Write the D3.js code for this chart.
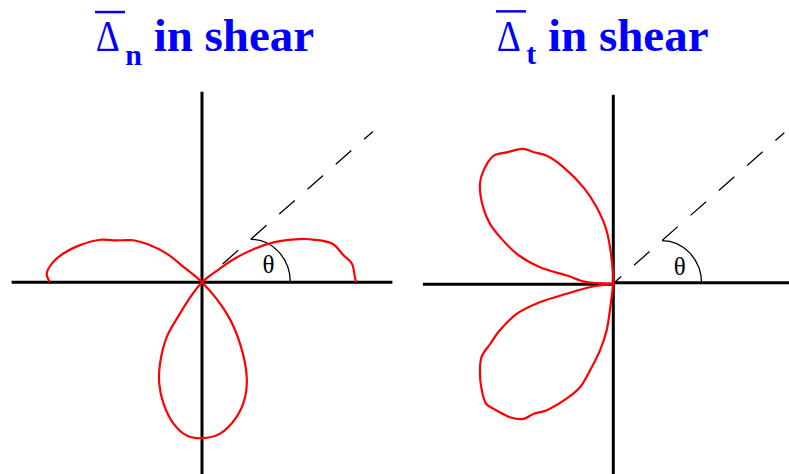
<!DOCTYPE html>
<html>
<head>
<meta charset="utf-8">
<script src="https://cdn.jsdelivr.net/npm/d3@7"></script>
<style>
  html, body { margin: 0; padding: 0; background: #fff; }
  svg { display: block; }
  text { white-space: pre; }
</style>
</head>
<body>
<svg id="chart" width="789" height="474"></svg>
<script>
// Polar opening-displacement profiles around a crack tip under shear loading.
// Angles in degrees (0 = ahead of the tip, 180 = crack flank); values are
// signed, normalised displacements (negative values plot on the opposite ray).

const thetaN = [0, 1.9, 7.1, 10.8, 16.4, 21, 22.7, 24.8, 28.9, 32.4, 35.7, 37.5, 38.5,
  52, 54.9, 57.2, 62.7, 67.1, 72.3, 78.5, 84.3, 90, 96.8, 104.4, 110.6, 115.3, 121.8,
  128.3, 139.8, 140.4, 141, 145, 148.6, 151.8, 154.7, 157.3, 163.1, 168.3, 172.2, 176.8, 180];
const valuesN = [0.963, 0.956, 0.944, 0.900, 0.850, 0.744, 0.700, 0.638, 0.519, 0.394, 0.256, 0.125, 0,
  -0.113, -0.238, -0.406, -0.572, -0.687, -0.794, -0.900, -0.963, -0.975, -0.953, -0.869, -0.766, -0.654, -0.450,
  -0.250, 0, 0.150, 0.281, 0.413, 0.503, 0.555, 0.613, 0.688, 0.797, 0.885, 0.938, 0.972, 0.950];

const thetaT = [0, 9, 12.4, 14.3, 17.4, 22.5, 26.1, 29.2, 34.1, 38.2, 43.5, 47.4, 52.3, 56.4,
  58.5, 62.3, 68, 72.2, 75, 78.8, 81.9, 82.9, 90, 92.5, 97.2, 102.3, 107.3, 113.3, 117.5,
  121.4, 123.8, 129.1, 133.2, 139, 143.2, 149.6, 154.2, 157.8, 162.9, 167.5, 170.3, 177.2, 180];
const valuesT = [0, -0.150, -0.300, -0.475, -0.631, -0.769, -0.856, -0.944, -1.006, -1.050, -1.094, -1.078, -1.056, -1.016,
  -0.956, -0.894, -0.775, -0.681, -0.563, -0.425, -0.297, -0.086, 0, 0.100, 0.331, 0.488, 0.631, 0.794, 0.900,
  0.963, 1.013, 1.056, 1.094, 1.075, 1.041, 0.944, 0.856, 0.763, 0.631, 0.469, 0.294, 0.169, 0];

const titles = [
  { symbol: "\u0394", sub: "n", rest: " in shear" },
  { symbol: "\u0394", sub: "t", rest: " in shear" }
];
const angleLabel = "\u03b8";
const markedAngle = 41.4; // direction of the dashed reference ray, degrees

const svg = d3.select("#chart");

const r = d3.scaleLinear().domain([0, 1]).range([0, 160]);
const ang = d3.scaleLinear().domain([0, 180]).range([Math.PI / 2, -Math.PI / 2]);

const radial = d3.lineRadial()
  .angle(d => ang(d[0]))
  .radius(d => r(d[1]))
  .curve(d3.curveCatmullRom.alpha(0.5));

const panels = [
  { ox: 202, oy: 282.2, theta: thetaN, values: valuesN, title: titles[0], tx: 95.7, ty: 51.3,
    axis: { left: -1.19, right: 1.19, top: 1.19, bottom: 1.25, dyL: 0, dyR: 0 } },
  { ox: 613.3, oy: 283.5, theta: thetaT, values: valuesT, title: titles[1], tx: 496.7, ty: 50.6,
    axis: { left: -1.19, right: 1.2, top: 1.18, bottom: 1.25, dyL: 0.8, dyR: -0.8 } }
];

panels.forEach(p => {
  const g = svg.append("g").attr("transform", `translate(${p.ox},${p.oy})`);

  // cross-hair axes through the crack tip
  const ax = g.append("g").attr("stroke", "#000").attr("stroke-width", 3);
  ax.append("line").attr("x1", r(p.axis.left)).attr("x2", 0)
    .attr("y1", p.axis.dyL).attr("y2", p.axis.dyL);
  ax.append("line").attr("x1", 0).attr("x2", r(p.axis.right))
    .attr("y1", p.axis.dyR).attr("y2", p.axis.dyR);
  ax.append("line").attr("x1", 0).attr("x2", 0)
    .attr("y1", -r(p.axis.top)).attr("y2", r(p.axis.bottom));

  // dashed ray at angle theta
  const a = markedAngle * Math.PI / 180;
  const rayLen = r(1.425);
  g.append("line")
    .attr("x1", 0).attr("y1", 0)
    .attr("x2", rayLen * Math.cos(a)).attr("y2", -rayLen * Math.sin(a))
    .attr("stroke", "#000").attr("stroke-width", 1.3)
    .attr("stroke-dasharray", "20.7 17").attr("stroke-dashoffset", 10.1);

  // quarter arc marking theta, from the ray down to the axis
  const cx = 48.7, rx = 39.6, ry = cx * Math.tan(a);
  g.append("path")
    .attr("d", `M${cx},${-ry} A${rx},${ry} 0 0 1 ${cx + rx},0`)
    .attr("fill", "none").attr("stroke", "#000").attr("stroke-width", 1.3);

  g.append("text")
    .attr("x", 66.5).attr("y", -9)
    .attr("text-anchor", "middle")
    .attr("font-family", "Liberation Serif, Times New Roman, serif")
    .attr("font-size", 25)
    .attr("fill", "#000")
    .text(angleLabel);

  // displacement profile
  const pts = p.theta.map((t, i) => [t, p.values[i]]);
  g.append("path")
    .attr("d", radial(pts))
    .attr("fill", "none")
    .attr("stroke", "#ff0000")
    .attr("stroke-width", 2.2)
    .attr("stroke-linejoin", "round");

  // title: barred Delta with subscript
  const tg = svg.append("g").attr("fill", "#0000ff")
    .attr("font-family", "Liberation Serif, Times New Roman, serif");
  tg.append("text")
    .attr("x", p.tx).attr("y", p.ty)
    .attr("font-size", 44)
    .attr("textLength", 24).attr("lengthAdjust", "spacingAndGlyphs")
    .text(p.title.symbol);
  tg.append("rect")
    .attr("x", p.tx - 0.7).attr("y", p.ty - 40.5)
    .attr("width", 30).attr("height", 2.5);
  const t2 = tg.append("text")
    .attr("x", p.tx + 29.5).attr("y", p.ty)
    .attr("font-weight", "bold");
  t2.append("tspan").attr("font-size", 30).attr("dy", 13.5).text(p.title.sub);
  t2.append("tspan").attr("font-size", 47).attr("dy", -13.5).text(p.title.rest);
});
</script>
</body>
</html>
